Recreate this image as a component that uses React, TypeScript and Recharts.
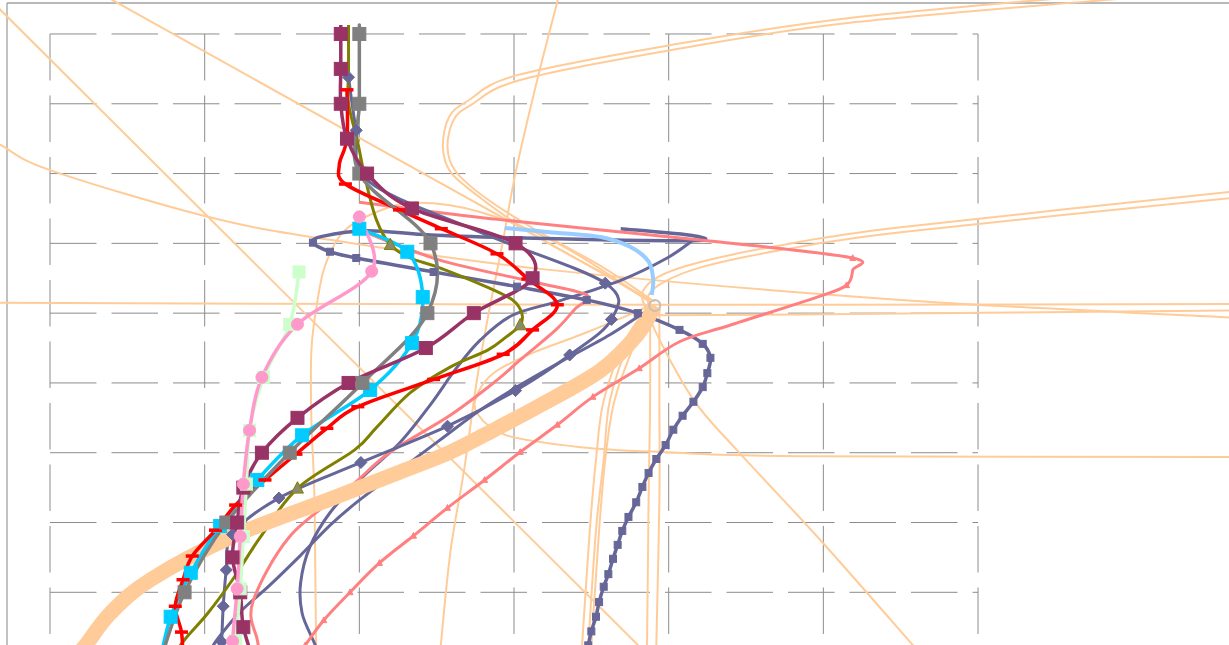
import React from 'react';
import { ComposedChart, Line, XAxis, YAxis, ReferenceLine } from 'recharts';

type Pt = { x: number; y: number };

// ---- axis frame (hidden axes, grid drawn as reference segments) ----
const X_MIN = -0.3233;
const X_MAX = 7.6227;
const Y_MIN = -0.7551;
const Y_MAX = 8.4869;
const GRID_X = [0, 1, 2, 3, 4, 5, 6];
const GRID_Y = [0, 1, 2, 3, 4, 5, 6, 7, 8];
const BORDER_X = -0.278;
const BORDER_Y = 8.444;

// ---- series values ----
const maroonSeries: Pt[] = [
  { x: 1.88, y: 8.13 }, { x: 1.88, y: 8 }, { x: 1.88, y: 7.5 }, { x: 1.88, y: 7 }, { x: 1.92, y: 6.5 },
  { x: 2.05, y: 6 }, { x: 2.34, y: 5.5 }, { x: 3.01, y: 5 }, { x: 3.12, y: 4.5 }, { x: 2.74, y: 4 },
  { x: 2.43, y: 3.5 }, { x: 1.93, y: 3 }, { x: 1.6, y: 2.5 }, { x: 1.37, y: 2 }, { x: 1.25, y: 1.5 },
  { x: 1.21, y: 1 }, { x: 1.18, y: 0.5 }, { x: 1.23, y: 0 }, { x: 1.25, y: -0.5 }, { x: 1.32, y: -1.0 },
];
const graySeries: Pt[] = [
  { x: 2.0, y: 8.13 }, { x: 2.0, y: 8 }, { x: 2.0, y: 7 }, { x: 2.0, y: 6 }, { x: 2.46, y: 5 },
  { x: 2.44, y: 4 }, { x: 2.02, y: 3 }, { x: 1.55, y: 2 }, { x: 1.14, y: 1 }, { x: 0.87, y: 0 }, { x: 0.71, y: -1 },
];
const oliveSeries: Pt[] = [
  { x: 1.93, y: 8.13 }, { x: 1.93, y: 7.48 }, { x: 1.93, y: 7.01 }, { x: 1.99, y: 6.44 }, { x: 2.04, y: 5.91 },
  { x: 2.11, y: 5.34 }, { x: 2.2, y: 4.98 }, { x: 2.33, y: 4.79 }, { x: 2.52, y: 4.65 }, { x: 2.83, y: 4.37 },
  { x: 2.99, y: 4.19 }, { x: 3.05, y: 4.0 }, { x: 3.04, y: 3.83 }, { x: 2.95, y: 3.66 }, { x: 2.83, y: 3.47 },
  { x: 2.59, y: 3.23 }, { x: 2.33, y: 2.86 }, { x: 2.11, y: 2.36 }, { x: 1.97, y: 2.04 }, { x: 1.6, y: 1.49 },
  { x: 1.36, y: 0.79 }, { x: 1.18, y: 0.18 }, { x: 1.02, y: -0.3 }, { x: 0.87, y: -0.68 }, { x: 0.78, y: -0.97 },
];
const redSeries: Pt[] = [
  { x: 1.92, y: 7.2 }, { x: 1.92, y: 6.5 }, { x: 1.87, y: 6.12 }, { x: 1.91, y: 5.85 }, { x: 2.26, y: 5.48 },
  { x: 2.53, y: 5.21 }, { x: 2.89, y: 4.85 }, { x: 3.09, y: 4.49 }, { x: 3.28, y: 4.12 }, { x: 3.12, y: 3.76 },
  { x: 2.93, y: 3.41 }, { x: 2.48, y: 3.05 }, { x: 1.99, y: 2.66 }, { x: 1.79, y: 2.35 }, { x: 1.59, y: 1.98 },
  { x: 1.39, y: 1.61 }, { x: 1.2, y: 1.25 }, { x: 1.07, y: 0.89 }, { x: 0.92, y: 0.52 }, { x: 0.86, y: 0.18 },
  { x: 0.81, y: -0.2 }, { x: 0.85, y: -0.57 }, { x: 0.86, y: -0.95 },
];
const cyanSeries: Pt[] = [
  { x: 2.0, y: 5.21 }, { x: 2.31, y: 4.88 }, { x: 2.41, y: 4.23 }, { x: 2.34, y: 3.57 }, { x: 2.07, y: 2.9 },
  { x: 1.63, y: 2.25 }, { x: 1.34, y: 1.61 }, { x: 1.1, y: 0.95 }, { x: 0.91, y: 0.28 }, { x: 0.78, y: -0.35 }, { x: 0.71, y: -0.99 },
];
const pinkSeries: Pt[] = [
  { x: 2.0, y: 5.38 }, { x: 2.08, y: 4.6 }, { x: 1.6, y: 3.84 }, { x: 1.37, y: 3.08 }, { x: 1.29, y: 2.32 },
  { x: 1.25, y: 1.55 }, { x: 1.23, y: 0.8 }, { x: 1.21, y: 0.05 }, { x: 1.18, y: -0.7 }, { x: 1.16, y: -1.45 },
];
const greenSeries: Pt[] = [
  { x: 1.61, y: 4.59 }, { x: 1.55, y: 3.84 }, { x: 1.38, y: 3.08 }, { x: 1.29, y: 2.32 }, { x: 1.27, y: 1.55 },
  { x: 1.25, y: 0.8 }, { x: 1.23, y: 0.05 }, { x: 1.2, y: -0.7 },
];
const diamondSeries: Pt[] = [
  { x: 1.93, y: 7.38 }, { x: 1.98, y: 6.62 }, { x: 2.06, y: 5.89 }, { x: 2.78, y: 5.16 }, { x: 3.59, y: 4.43 },
  { x: 3.63, y: 3.91 }, { x: 3.36, y: 3.4 }, { x: 3.01, y: 2.89 }, { x: 2.57, y: 2.38 }, { x: 2.01, y: 1.86 },
  { x: 1.48, y: 1.35 }, { x: 1.18, y: 0.83 }, { x: 1.14, y: 0.32 }, { x: 1.12, y: -0.2 }, { x: 1.11, y: -0.71 }, { x: 1.1, y: -1.22 },
];
const slateLoopSeries: Pt[] = [
  { x: 3.69, y: 5.21 }, { x: 4.16, y: 5.11 }, { x: 4.18, y: 5.04 }, { x: 3.56, y: 5.05 }, { x: 2.99, y: 5.08 },
  { x: 2.46, y: 5.12 }, { x: 2.05, y: 5.18 }, { x: 1.76, y: 5.1 }, { x: 1.7, y: 5.01 }, { x: 1.81, y: 4.88 },
  { x: 1.98, y: 4.79 }, { x: 2.48, y: 4.59 }, { x: 3.02, y: 4.38 }, { x: 3.47, y: 4.19 }, { x: 3.8, y: 4.0 },
  { x: 4.07, y: 3.76 }, { x: 4.22, y: 3.56 }, { x: 4.27, y: 3.36 }, { x: 4.25, y: 3.14 }, { x: 4.22, y: 2.94 },
  { x: 4.16, y: 2.73 }, { x: 4.09, y: 2.53 }, { x: 4.03, y: 2.33 }, { x: 3.98, y: 2.11 }, { x: 3.92, y: 1.91 },
  { x: 3.87, y: 1.71 }, { x: 3.83, y: 1.51 }, { x: 3.79, y: 1.29 }, { x: 3.74, y: 1.08 }, { x: 3.7, y: 0.88 },
  { x: 3.67, y: 0.68 }, { x: 3.64, y: 0.48 }, { x: 3.61, y: 0.26 }, { x: 3.58, y: 0.08 }, { x: 3.55, y: -0.14 },
  { x: 3.53, y: -0.35 }, { x: 3.5, y: -0.56 }, { x: 3.48, y: -0.76 }, { x: 3.46, y: -0.97 },
];
const slateSeriesB: Pt[] = [
  { x: 4.16, y: 5.05 }, { x: 3.99, y: 4.79 }, { x: 3.69, y: 4.47 }, { x: 3.3, y: 4.18 }, { x: 2.99, y: 3.97 },
  { x: 2.78, y: 3.61 }, { x: 2.62, y: 3.19 }, { x: 2.46, y: 2.69 }, { x: 2.26, y: 2.14 }, { x: 2.02, y: 1.65 },
  { x: 1.81, y: 1.14 }, { x: 1.68, y: 0.65 }, { x: 1.62, y: 0.13 }, { x: 1.63, y: -0.3 }, { x: 1.7, y: -0.68 }, { x: 1.76, y: -0.97 },
];
const slateSeriesC: Pt[] = [
  { x: 3.85, y: 4.02 }, { x: 3.62, y: 3.69 }, { x: 3.3, y: 3.3 }, { x: 3.04, y: 2.97 }, { x: 2.78, y: 2.61 },
  { x: 2.52, y: 2.18 }, { x: 2.26, y: 1.75 }, { x: 2.0, y: 1.32 }, { x: 1.81, y: 0.96 }, { x: 1.62, y: 0.53 },
  { x: 1.42, y: 0.1 }, { x: 1.23, y: -0.28 }, { x: 1.08, y: -0.68 }, { x: 1.0, y: -0.97 },
];
const salmonMarked: Pt[] = [
  { x: 2.0, y: 5.59 }, { x: 2.91, y: 5.34 }, { x: 4.33, y: 5.02 }, { x: 5.19, y: 4.79 }, { x: 5.19, y: 4.62 },
  { x: 5.15, y: 4.4 }, { x: 4.96, y: 4.23 }, { x: 4.4, y: 3.83 }, { x: 4.07, y: 3.59 }, { x: 3.81, y: 3.21 },
  { x: 3.51, y: 2.8 }, { x: 3.28, y: 2.4 }, { x: 3.04, y: 2.01 }, { x: 2.81, y: 1.61 }, { x: 2.57, y: 1.21 },
  { x: 2.35, y: 0.81 }, { x: 2.13, y: 0.42 }, { x: 1.94, y: 0.0 }, { x: 1.77, y: -0.4 }, { x: 1.65, y: -0.76 }, { x: 1.55, y: -1.1 },
];
const salmonPlain: Pt[] = [
  { x: 2.05, y: 5.15 }, { x: 2.52, y: 4.76 }, { x: 3.12, y: 4.45 }, { x: 3.47, y: 4.26 }, { x: 3.39, y: 4.05 },
  { x: 3.27, y: 3.76 }, { x: 3.04, y: 3.33 }, { x: 2.89, y: 3.04 }, { x: 2.59, y: 2.54 }, { x: 2.2, y: 2.01 },
  { x: 1.94, y: 1.51 }, { x: 1.55, y: 0.8 }, { x: 1.31, y: -0.15 }, { x: 1.34, y: -0.68 }, { x: 1.37, y: -0.97 },
];
const lightBlueSeries: Pt[] = [
  { x: 2.94, y: 5.22 }, { x: 3.23, y: 5.16 }, { x: 3.56, y: 5.09 }, { x: 3.75, y: 4.95 }, { x: 3.87, y: 4.74 },
  { x: 3.9, y: 4.47 }, { x: 3.89, y: 4.26 },
];
const thickPeachSeries: Pt[] = [
  { x: 3.91, y: 4.11 }, { x: 3.8, y: 3.7 }, { x: 3.56, y: 3.18 }, { x: 3.17, y: 2.68 }, { x: 2.89, y: 2.35 },
  { x: 2.59, y: 2.01 }, { x: 2.26, y: 1.72 }, { x: 1.83, y: 1.35 }, { x: 1.18, y: 0.8 }, { x: 0.65, y: 0.18 },
  { x: 0.39, y: -0.3 }, { x: 0.23, y: -0.76 }, { x: 0.13, y: -1.0 },
];
// thin peach curves
const peach1: Pt[] = [{ x: 0.19, y: 8.75 }, { x: 3.88, y: 4.19 }];
const peach2: Pt[] = [{ x: -0.45, y: 8.63 }, { x: 3.88, y: -0.93 }];
const peach3: Pt[] = [
  { x: -0.52, y: 6.66 }, { x: -0.32, y: 6.41 }, { x: 0, y: 6.05 }, { x: 1.02, y: 5.38 }, { x: 1.81, y: 5.05 },
  { x: 3.23, y: 4.62 }, { x: 5.5, y: 4.19 }, { x: 7.69, y: 3.93 },
];
const peach4a: Pt[] = [
  { x: 6.79, y: 8.56 }, { x: 5.17, y: 8.23 }, { x: 4.01, y: 7.84 }, { x: 3.02, y: 7.41 }, { x: 2.7, y: 7.04 },
  { x: 2.58, y: 6.81 }, { x: 2.54, y: 6.39 }, { x: 2.59, y: 6.02 }, { x: 2.79, y: 5.64 }, { x: 3.1, y: 5.16 },
  { x: 3.56, y: 4.59 }, { x: 3.89, y: 4.15 },
];
const peach4b: Pt[] = [
  { x: 7.11, y: 8.54 }, { x: 5.17, y: 8.16 }, { x: 4.02, y: 7.77 }, { x: 3.04, y: 7.34 }, { x: 2.72, y: 6.98 },
  { x: 2.61, y: 6.77 }, { x: 2.57, y: 6.38 }, { x: 2.62, y: 6.04 }, { x: 2.81, y: 5.66 }, { x: 3.12, y: 5.22 },
  { x: 3.58, y: 4.65 }, { x: 3.91, y: 4.16 },
];
const peach5a: Pt[] = [
  { x: 7.69, y: 5.75 }, { x: 5.5, y: 5.23 }, { x: 4.72, y: 4.97 }, { x: 4.2, y: 4.73 }, { x: 3.94, y: 4.53 },
  { x: 3.83, y: 4.3 }, { x: 3.85, y: 4.07 },
];
const peach5b: Pt[] = [
  { x: 7.69, y: 5.66 }, { x: 5.5, y: 5.16 }, { x: 4.72, y: 4.9 }, { x: 4.23, y: 4.67 }, { x: 3.98, y: 4.46 },
  { x: 3.87, y: 4.26 }, { x: 3.88, y: 4.04 },
];
const peachFlatA: Pt[] = [{ x: -0.39, y: 4.15 }, { x: 3.9, y: 4.12 }, { x: 7.69, y: 4.13 }];
const peachFlatB: Pt[] = [{ x: 3.91, y: 3.97 }, { x: 4.85, y: 3.98 }, { x: 7.69, y: 4.04 }];
const peach8: Pt[] = [
  { x: 3.3, y: 8.63 }, { x: 3.15, y: 7.34 }, { x: 3.01, y: 6.01 }, { x: 2.93, y: 5.05 }, { x: 2.84, y: 4.04 },
  { x: 2.76, y: 3.04 }, { x: 2.68, y: 1.79 }, { x: 2.59, y: 0.6 }, { x: 2.53, y: -0.68 }, { x: 2.52, y: -0.97 },
];
const peach9: Pt[] = [
  { x: 3.88, y: 4.16 }, { x: 3.3, y: 4.98 }, { x: 2.78, y: 5.45 }, { x: 2.35, y: 5.58 }, { x: 2.07, y: 5.41 },
  { x: 1.89, y: 5.15 }, { x: 1.78, y: 4.69 }, { x: 1.73, y: 4.19 }, { x: 1.69, y: 3.47 }, { x: 1.69, y: 2.47 },
  { x: 1.71, y: 1.32 }, { x: 1.72, y: -0.76 }, { x: 1.73, y: -1.11 },
];
const peach10a: Pt[] = [
  { x: 3.88, y: 4.12 }, { x: 3.72, y: 3.61 }, { x: 3.58, y: 2.75 }, { x: 3.53, y: 1.9 }, { x: 3.49, y: 0.89 },
  { x: 3.44, y: -0.76 }, { x: 3.43, y: -1.04 },
];
const peach10b: Pt[] = [
  { x: 3.89, y: 4.12 }, { x: 3.75, y: 3.61 }, { x: 3.62, y: 2.75 }, { x: 3.58, y: 1.9 }, { x: 3.53, y: 0.89 },
  { x: 3.48, y: -0.76 }, { x: 3.47, y: -1.04 },
];
const peach10c: Pt[] = [
  { x: 3.91, y: 4.12 }, { x: 3.79, y: 3.61 }, { x: 3.65, y: 2.75 }, { x: 3.59, y: 1.9 }, { x: 3.55, y: 0.89 },
  { x: 3.5, y: -0.76 }, { x: 3.48, y: -1.04 },
];
const peach10d: Pt[] = [
  { x: 3.88, y: 4.05 }, { x: 3.88, y: 2.76 }, { x: 3.87, y: 1.32 }, { x: 3.86, y: -0.76 }, { x: 3.85, y: -1.04 },
];
const peach10e: Pt[] = [
  { x: 3.94, y: 4.05 }, { x: 3.94, y: 2.76 }, { x: 3.94, y: 1.32 }, { x: 3.92, y: -0.76 }, { x: 3.92, y: -1.04 },
];
const peach11: Pt[] = [
  { x: 3.87, y: 4.12 }, { x: 3.91, y: 3.76 }, { x: 4.16, y: 2.76 }, { x: 4.44, y: 2.04 }, { x: 4.98, y: 0.75 },
  { x: 5.58, y: -0.76 }, { x: 5.69, y: -1.04 },
];
const peach12: Pt[] = [
  { x: 3.88, y: 4.12 }, { x: 3.77, y: 4.0 }, { x: 3.43, y: 3.69 }, { x: 3.12, y: 3.43 }, { x: 2.88, y: 3.16 },
  { x: 2.77, y: 2.87 }, { x: 2.76, y: 2.57 }, { x: 2.95, y: 2.25 }, { x: 3.43, y: 2.08 }, { x: 3.96, y: 2.01 },
  { x: 4.85, y: 1.95 }, { x: 7.69, y: 1.94 },
];

// ---- colours ----
const MAROON = '#993366';
const GRAY = '#808080';
const OLIVE = '#808000';
const RED = '#FF0000';
const CYAN = '#00CCFF';
const PINK = '#FF99CC';
const GREEN = '#CCFFCC';
const SLATE = '#666699';
const SALMON = '#FF8080';
const LIGHTBLUE = '#99CCFF';
const PEACH = '#FFCC99';
const GRID = '#8c8c8c';

// Excel-like smoothing (Catmull-Rom style bezier)
const smoothCurve = (context: any) => {
  let pts: number[][] = [];
  return {
    areaStart() {},
    areaEnd() {},
    lineStart() {
      pts = [];
    },
    lineEnd() {
      const n = pts.length;
      if (!n) return;
      context.moveTo(pts[0][0], pts[0][1]);
      const t = 1 / 6;
      for (let i = 0; i < n - 1; i++) {
        const p0 = pts[Math.max(0, i - 1)];
        const p1 = pts[i];
        const p2 = pts[i + 1];
        const p3 = pts[Math.min(n - 1, i + 2)];
        context.bezierCurveTo(
          p1[0] + (p2[0] - p0[0]) * t,
          p1[1] + (p2[1] - p0[1]) * t,
          p2[0] - (p3[0] - p1[0]) * t,
          p2[1] - (p3[1] - p1[1]) * t,
          p2[0],
          p2[1]
        );
      }
    },
    point(x: number, y: number) {
      pts.push([x, y]);
    },
  };
};

type MarkKind = 'square' | 'circle' | 'diamond' | 'triangle' | 'dash' | 'ring';

const makeDot = (kind: MarkKind, size: number, fill: string, stroke: string, skip: number[] = [], only?: number[]) =>
  (p: any) => {
    const { cx, cy, index } = p;
    const k = `m${index}`;
    if (cx == null || cy == null || skip.includes(index) || (only && !only.includes(index))) return <g key={k} />;
    const h = size / 2;
    switch (kind) {
      case 'square':
        return <rect key={k} x={cx - h} y={cy - h} width={size} height={size} fill={fill} stroke={stroke} strokeWidth={1} />;
      case 'circle':
        return <circle key={k} cx={cx} cy={cy} r={h} fill={fill} stroke={stroke} strokeWidth={1} />;
      case 'ring':
        return <circle key={k} cx={cx} cy={cy} r={h} fill="none" stroke={stroke} strokeWidth={2} />;
      case 'diamond':
        return <polygon key={k} points={`${cx},${cy - h} ${cx + h},${cy} ${cx},${cy + h} ${cx - h},${cy}`} fill={fill} stroke={stroke} strokeWidth={1} />;
      case 'triangle':
        return <polygon key={k} points={`${cx},${cy - h * 1.1} ${cx + h},${cy + h * 0.8} ${cx - h},${cy + h * 0.8}`} fill={fill} stroke={stroke} strokeWidth={1} />;
      case 'dash':
        return <rect key={k} x={cx - h} y={cy - 1.75} width={size} height={3.5} fill={fill} />;
      default:
        return <g key={k} />;
    }
  };

type Series = {
  key: string;
  data: Pt[];
  color: string;
  width: number;
  linear?: boolean;
  dot?: any;
};

const thin = (key: string, data: Pt[]): Series => ({ key, data, color: PEACH, width: 2 });

const SERIES: Series[] = [
  thin('p1', peach1),
  thin('p2', peach2),
  thin('p3', peach3),
  thin('p4a', peach4a),
  thin('p4b', peach4b),
  thin('p5a', peach5a),
  thin('p5b', peach5b),
  thin('pfa', peachFlatA),
  thin('pfb', peachFlatB),
  thin('p8', peach8),
  thin('p9', peach9),
  thin('p10a', peach10a),
  thin('p10b', peach10b),
  thin('p10c', peach10c),
  thin('p10d', peach10d),
  thin('p10e', peach10e),
  thin('p11', peach11),
  thin('p12', peach12),
  { key: 'slateB', data: slateSeriesB, color: SLATE, width: 3 },
  { key: 'slateC', data: slateSeriesC, color: SLATE, width: 3 },
  { key: 'slateLoop', data: slateLoopSeries, color: SLATE, width: 3.5, dot: makeDot('square', 7, SLATE, SLATE, [0, 1, 2, 3, 4, 5, 6, 7]) },
  { key: 'salmonPlain', data: salmonPlain, color: SALMON, width: 3 },
  { key: 'salmonMarked', data: salmonMarked, color: SALMON, width: 3, dot: makeDot('triangle', 6, SALMON, SALMON, [0, 1, 2, 4, 6, 7, 8]) },
  { key: 'lightBlue', data: lightBlueSeries, color: LIGHTBLUE, width: 4 },
  { key: 'diamond', data: diamondSeries, color: SLATE, width: 3, dot: makeDot('diamond', 12, SLATE, SLATE, [2, 3]) },
  { key: 'olive', data: oliveSeries, color: OLIVE, width: 3, dot: makeDot('triangle', 12, '#8a8a6a', OLIVE, [], [6, 12, 19]) },
  { key: 'thick', data: thickPeachSeries, color: PEACH, width: 15, dot: makeDot('ring', 11, 'none', '#c8c0b8', [], [0]) },
  { key: 'cyan', data: cyanSeries, color: CYAN, width: 3.5, dot: makeDot('square', 13, CYAN, CYAN) },
  { key: 'red', data: redSeries, color: RED, width: 3.5, dot: makeDot('dash', 13, RED, RED, [2]) },
  { key: 'gray', data: graySeries, color: GRAY, width: 3.5, dot: makeDot('square', 13, GRAY, GRAY, [0]) },
  { key: 'maroon', data: maroonSeries, color: MAROON, width: 3.5, dot: makeDot('square', 13, MAROON, MAROON, [0]) },
  { key: 'green', data: greenSeries, color: GREEN, width: 3.5, dot: makeDot('square', 12, GREEN, GREEN) },
  { key: 'pink', data: pinkSeries, color: PINK, width: 3.5, dot: makeDot('circle', 12, PINK, PINK) },
];

export default function App() {
  return (
    <div style={{ position: 'absolute', left: 0, top: 0, background: '#fff' }}>
      <ComposedChart width={1229} height={645} margin={{ top: 0, right: 0, bottom: 0, left: 0 }}>
        <XAxis type="number" dataKey="x" domain={[X_MIN, X_MAX]} allowDataOverflow hide />
        <YAxis type="number" domain={[Y_MIN, Y_MAX]} allowDataOverflow hide />
        {/* outer border */}
        <ReferenceLine
          segment={[{ x: BORDER_X, y: BORDER_Y }, { x: X_MAX + 0.2, y: BORDER_Y }]}
          stroke="#a0a0a0"
          strokeWidth={1.3}
          ifOverflow="visible"
        />
        <ReferenceLine
          segment={[{ x: BORDER_X, y: BORDER_Y }, { x: BORDER_X, y: Y_MIN - 0.2 }]}
          stroke="#a0a0a0"
          strokeWidth={1.3}
          ifOverflow="visible"
        />
        {GRID_Y.map((g) => (
          <ReferenceLine
            key={`gy${g}`}
            segment={[{ x: GRID_X[0], y: g }, { x: GRID_X[GRID_X.length - 1], y: g }]}
            stroke={GRID}
            strokeWidth={1}
            strokeDasharray="46.5 15"
            ifOverflow="visible"
          />
        ))}
        {GRID_X.map((g) => (
          <ReferenceLine
            key={`gx${g}`}
            segment={[{ x: g, y: GRID_Y[GRID_Y.length - 1] }, { x: g, y: Y_MIN - 0.2 }]}
            stroke={GRID}
            strokeWidth={1}
            strokeDasharray="46.5 15"
            ifOverflow="visible"
          />
        ))}
        {SERIES.map((s) => (
          <Line
            key={s.key}
            data={s.data}
            dataKey="y"
            type={s.linear ? 'linear' : (smoothCurve as any)}
            stroke={s.color}
            strokeWidth={s.width}
            strokeLinejoin="round"
            strokeLinecap="butt"
            dot={s.dot ? s.dot : false}
            activeDot={false}
            isAnimationActive={false}
            legendType="none"
          />
        ))}
      </ComposedChart>
    </div>
  );
}
